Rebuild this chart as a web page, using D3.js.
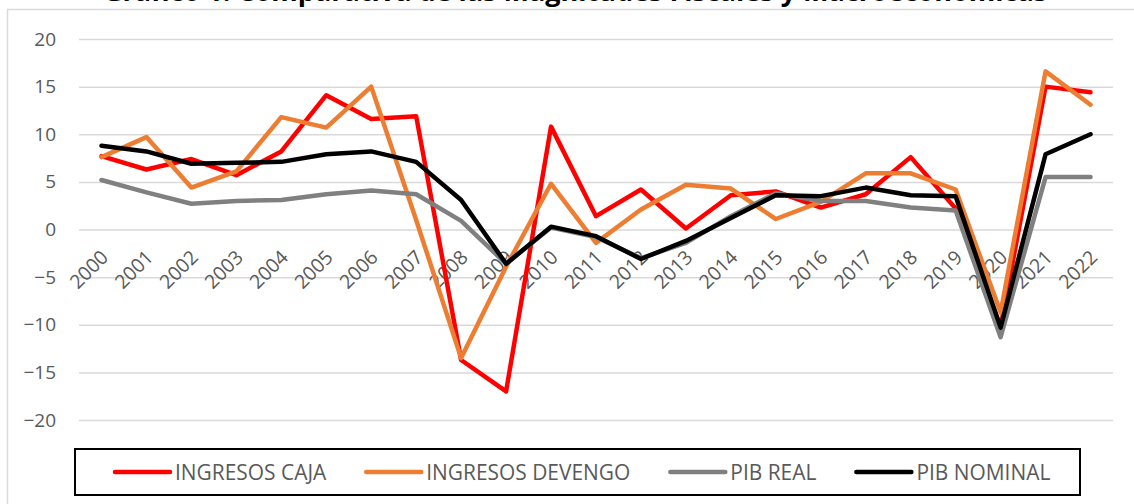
<!DOCTYPE html>
<html>
<head>
<meta charset="utf-8">
<script src="https://cdn.jsdelivr.net/npm/d3@7"></script>
<style>
  body { margin: 0; background: #fff; }
  svg { display: block; font-family: "Open Sans", sans-serif; }
</style>
</head>
<body>
<div id="container"></div>
<script>
const width = 1134,
      height = 504;

const plot = { left: 79, right: 1113, top: 39, bottom: 420 };

// Data
const years = ["2000","2001","2002","2003","2004","2005","2006","2007","2008","2009","2010",
               "2011","2012","2013","2014","2015","2016","2017","2018","2019","2020","2021","2022"];

const ingresosCaja    = [7.7, 6.3, 7.4, 5.7, 8.2, 14.1, 11.6, 11.9, -13.7, -17.0, 10.8,
                         1.4, 4.2, 0.1, 3.6, 4.0, 2.3, 3.7, 7.6, 2.2, -10.2, 15.0, 14.4];
const ingresosDevengo = [7.6, 9.7, 4.4, 6.1, 11.8, 10.7, 15.0, 1.0, -13.5, -3.9, 4.8,
                         -1.4, 2.1, 4.7, 4.3, 1.1, 2.9, 5.9, 5.9, 4.2, -8.7, 16.6, 13.1];
const pibReal         = [5.2, 3.9, 2.7, 3.0, 3.1, 3.7, 4.1, 3.7, 0.9, -3.6, 0.2,
                         -0.8, -3.0, -1.4, 1.4, 3.8, 3.0, 3.0, 2.3, 2.0, -11.3, 5.5, 5.5];
const pibNominal      = [8.8, 8.2, 6.9, 7.0, 7.1, 7.9, 8.2, 7.1, 3.1, -3.6, 0.3,
                         -0.7, -3.1, -1.2, 1.2, 3.6, 3.5, 4.4, 3.6, 3.5, -10.3, 7.9, 10.0];

const seriesNames  = ["INGRESOS CAJA", "INGRESOS DEVENGO", "PIB REAL", "PIB NOMINAL"];
const seriesValues = [ingresosCaja, ingresosDevengo, pibReal, pibNominal];
const seriesColors = ["#FF0000", "#ED7D31", "#808080", "#000000"];

const yTicks = [-20, -15, -10, -5, 0, 5, 10, 15, 20];

const titleText = "Gráfico 1. Comparativa de las Magnitudes Fiscales y Macroeconómicas";

const series = seriesNames.map((name, i) => ({
  name,
  color: seriesColors[i],
  values: years.map((y, j) => ({ year: y, value: seriesValues[i][j] }))
}));

// Scales
const xScale = d3.scalePoint()
  .domain(years)
  .range([plot.left, plot.right])
  .padding(0.5);

const yScale = d3.scaleLinear()
  .domain([-20, 20])
  .range([plot.bottom, plot.top]);

const svg = d3.select("#container")
  .append("svg")
  .attr("width", width)
  .attr("height", height);

svg.append("rect")
  .attr("width", width)
  .attr("height", height)
  .attr("fill", "#fff");

// chart area border (runs off the picture right and bottom)
svg.append("rect")
  .attr("x", 7.5)
  .attr("y", 9.5)
  .attr("width", 1200)
  .attr("height", 600)
  .attr("fill", "none")
  .attr("stroke", "#D9D9D9")
  .attr("stroke-width", 1.5);

// title, cut off at the top like in the source picture
svg.append("text")
  .attr("x", 575)
  .attr("y", 0.5)
  .attr("text-anchor", "middle")
  .style("font-size", "27px")
  .style("font-weight", "bold")
  .attr("fill", "#000")
  .text(titleText);

// gridlines + y labels
const yAxis = svg.append("g")
  .attr("transform", `translate(${plot.left},0)`)
  .call(d3.axisLeft(yScale).tickValues(yTicks).tickSize(-(plot.right - plot.left)).tickPadding(23))
  .call(g => g.select(".domain").remove());

yAxis.selectAll(".tick line")
  .attr("stroke", "#D9D9D9")
  .attr("stroke-width", 1.5);

yAxis.selectAll(".tick text")
  .attr("fill", "#595959")
  .style("font-size", "19px")
  .style("font-family", "'Open Sans', sans-serif");

// x labels along the zero line, rotated
svg.append("g")
  .selectAll("text")
  .data(years)
  .join("text")
  .attr("transform", d => `translate(${xScale(d) + 8},${yScale(0) + 29}) rotate(-45)`)
  .attr("text-anchor", "end")
  .attr("fill", "#595959")
  .style("font-size", "19.5px")
  .text(d => d);

// lines
const line = d3.line()
  .x(d => xScale(d.year))
  .y(d => yScale(d.value));

svg.append("g")
  .selectAll("path")
  .data(series)
  .join("path")
  .attr("fill", "none")
  .attr("stroke", d => d.color)
  .attr("stroke-width", 4.5)
  .attr("stroke-linejoin", "round")
  .attr("stroke-linecap", "round")
  .attr("d", d => line(d.values));

// legend
const legendBox = { x: 75, y: 449, w: 1005, h: 46 };

svg.append("rect")
  .attr("x", legendBox.x)
  .attr("y", legendBox.y)
  .attr("width", legendBox.w)
  .attr("height", legendBox.h)
  .attr("fill", "#fff")
  .attr("stroke", "#000")
  .attr("stroke-width", 2);

const legend = svg.append("g");
const sampleLen = 55, textGap = 5, itemGap = 40, squeeze = 0.93;
const cy = legendBox.y + legendBox.h / 2;

const items = legend.selectAll("g")
  .data(series)
  .join("g");

items.append("line")
  .attr("x1", 0)
  .attr("x2", sampleLen)
  .attr("y1", cy)
  .attr("y2", cy)
  .attr("stroke", d => d.color)
  .attr("stroke-width", 4.5)
  .attr("stroke-linecap", "round");

items.append("text")
  .attr("transform", `translate(${sampleLen + textGap},${cy + 8}) scale(${squeeze},1)`)
  .attr("fill", "#595959")
  .style("font-size", "22.5px")
  .text(d => d.name);

// lay items out in a row, starting near the left of the box
let widths = [];
items.each(function() {
  widths.push(sampleLen + textGap + d3.select(this).select("text").node().getComputedTextLength() * squeeze);
});
let cx = legendBox.x + 40;
items.attr("transform", (d, i) => {
  const t = `translate(${cx},0)`;
  cx += widths[i] + itemGap;
  return t;
});
</script>
</body>
</html>
